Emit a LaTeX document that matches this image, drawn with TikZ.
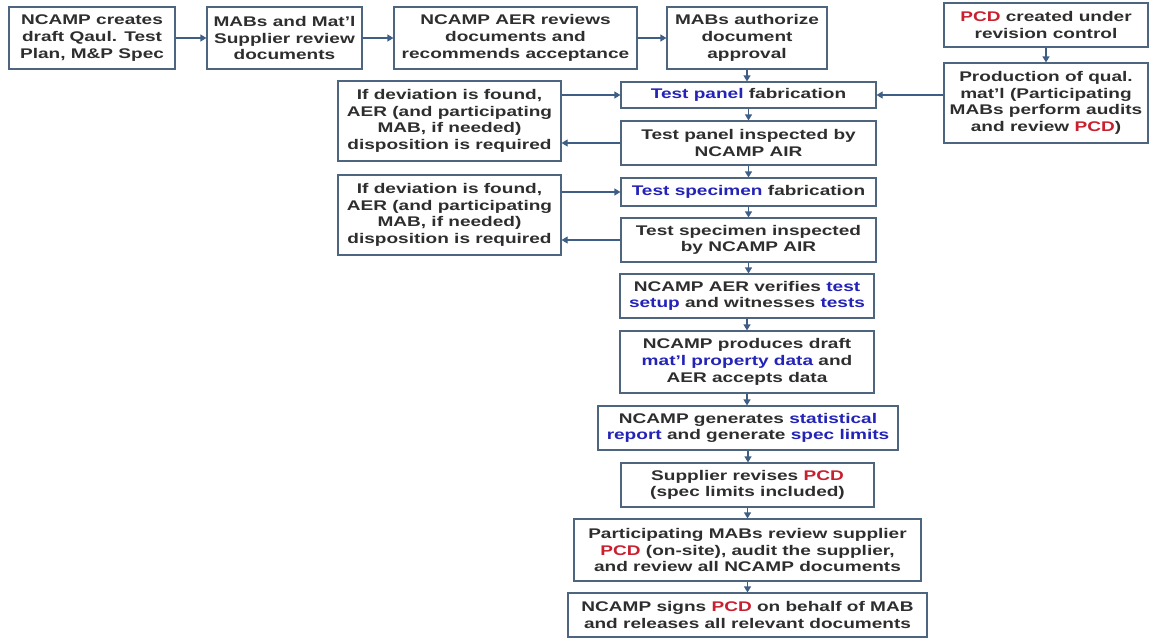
\documentclass[tikz,border=0pt]{standalone}
\usepackage{fontspec}
\setmainfont{Liberation Sans}[FakeStretch=1.36, UprightFont=* Bold, BoldFont=* Bold]
\usetikzlibrary{arrows.meta}
\definecolor{boxborder}{HTML}{4E6580}
\definecolor{arrowcol}{HTML}{3F5E86}
\definecolor{bluetxt}{HTML}{2323B8}
\definecolor{redtxt}{HTML}{C8202F}
\definecolor{textcol}{HTML}{2E2E2E}
\newcommand{\rd}[1]{\textcolor{redtxt}{#1}}
\newcommand{\bl}[1]{\textcolor{bluetxt}{#1}}
\begin{document}
\begin{tikzpicture}[x=1pt,y=-1pt,
  stepbox/.style={draw=boxborder, line width=1.2pt, fill=white, align=center,
    inner sep=0pt, text=textcol,
    font=\fontsize{14}{16.7}\selectfont},
  arr/.style={draw=arrowcol, line width=1.2pt, -{Triangle[length=6pt,width=7pt]}}]
\useasboundingbox[fill=white] (0,0) rectangle (1151,638);
% top row
\node[stepbox, minimum width=166pt, minimum height=62pt] (b1) at (92,38) {NCAMP creates\\draft Qaul. Test\\Plan, M\&P Spec};
\node[stepbox, minimum width=155pt, minimum height=62pt] (b2) at (284.5,38) {MABs and Mat'l\\Supplier review\\documents};
\node[stepbox, minimum width=243pt, minimum height=62pt] (b3) at (515.5,38) {NCAMP AER reviews\\documents and\\recommends acceptance};
\node[stepbox, minimum width=160pt, minimum height=62pt] (b4) at (747,38) {MABs authorize\\document\\approval};
% right column
\node[stepbox, minimum width=204pt, minimum height=44pt] (pcd) at (1046,25) {\rd{PCD} created under\\revision control};
\node[stepbox, minimum width=204pt, minimum height=80pt] (prod) at (1046,103) {Production of qual.\\mat'l (Participating\\MABs perform audits\\and review \rd{PCD})};
% middle column
\node[stepbox, minimum width=255pt, minimum height=26pt] (tpf) at (748.5,95) {\bl{Test panel} fabrication};
\node[stepbox, minimum width=255pt, minimum height=44pt] (tpi) at (748.5,143) {Test panel inspected by\\NCAMP AIR};
\node[stepbox, minimum width=255pt, minimum height=28pt] (tsf) at (748.5,192) {\bl{Test specimen} fabrication};
\node[stepbox, minimum width=255pt, minimum height=44pt] (tsi) at (748.5,240) {Test specimen inspected\\by NCAMP AIR};
\node[stepbox, minimum width=254pt, minimum height=44pt] (ver) at (747,296) {NCAMP AER verifies \bl{test}\\\bl{setup} and witnesses \bl{tests}};
\node[stepbox, minimum width=254pt, minimum height=62pt] (pro) at (747,362) {NCAMP produces draft\\\bl{mat'l property data} and\\AER accepts data};
\node[stepbox, minimum width=300pt, minimum height=44pt] (gen) at (748,428) {NCAMP generates \bl{statistical}\\\bl{report} and generate \bl{spec limits}};
\node[stepbox, minimum width=253pt, minimum height=44pt] (sup) at (747.5,485) {Supplier revises \rd{PCD}\\(spec limits included)};
\node[stepbox, minimum width=347pt, minimum height=62pt] (par) at (747.5,550) {Participating MABs review supplier\\\rd{PCD} (on-site), audit the supplier,\\and review all NCAMP documents};
\node[stepbox, minimum width=359pt, minimum height=44pt] (sig) at (747.5,615) {NCAMP signs \rd{PCD} on behalf of MAB\\and releases all relevant documents};
% deviation boxes
\node[stepbox, minimum width=223pt, minimum height=80pt] (dev1) at (449.5,121) {If deviation is found,\\AER (and participating\\MAB, if needed)\\disposition is required};
\node[stepbox, minimum width=223pt, minimum height=80pt] (dev2) at (449.5,215) {If deviation is found,\\AER (and participating\\MAB, if needed)\\disposition is required};
% connectors
\draw[arr] (b1.east) -- (b2.west);
\draw[arr] (b2.east) -- (b3.west);
\draw[arr] (b3.east) -- (b4.west);
\draw[arr] (pcd.south) -- (prod.north);
\draw[arr] (prod.west |- tpf.east) -- (tpf.east);
\draw[arr] (b4.south) -- (b4.south |- tpf.north);
\draw[arr] (tpf.south) -- (tpf.south |- tpi.north);
\draw[arr] (tpi.south) -- (tpi.south |- tsf.north);
\draw[arr] (tsf.south) -- (tsf.south |- tsi.north);
\draw[arr] (tsi.south) -- (tsi.south |- ver.north);
\draw[arr] (ver.south) -- (ver.south |- pro.north);
\draw[arr] (pro.south) -- (pro.south |- gen.north);
\draw[arr] (gen.south) -- (gen.south |- sup.north);
\draw[arr] (sup.south) -- (sup.south |- par.north);
\draw[arr] (par.south) -- (par.south |- sig.north);
\draw[arr] (dev1.east |- tpf.west) -- (tpf.west);
\draw[arr] (tpi.west) -- (tpi.west -| dev1.east);
\draw[arr] (dev2.east |- tsf.west) -- (tsf.west);
\draw[arr] (tsi.west) -- (tsi.west -| dev2.east);
\end{tikzpicture}
\end{document}
